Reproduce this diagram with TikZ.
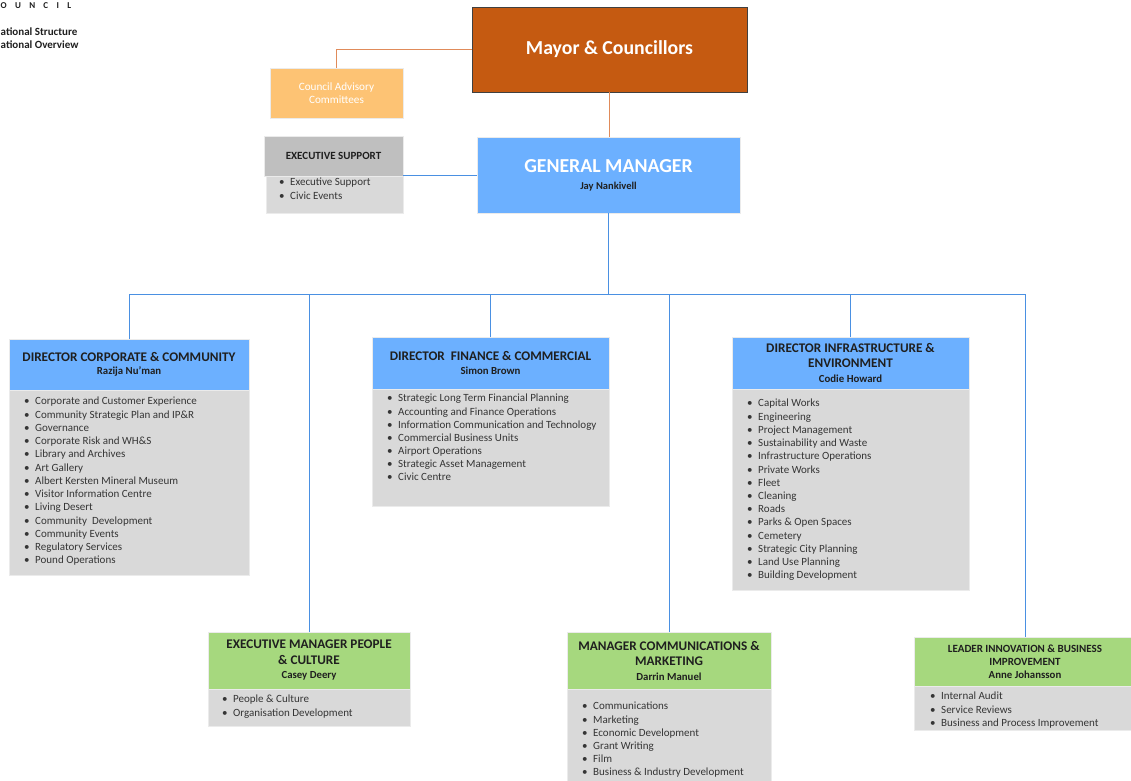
\documentclass[tikz,border=0pt]{standalone}
\usepackage{fontspec}
\setmainfont{Carlito}
\definecolor{mayorc}{HTML}{C55A11}
\definecolor{advc}{HTML}{FDC374}
\definecolor{gmc}{HTML}{6CB0FF}
\definecolor{bodyc}{HTML}{D9D9D9}
\definecolor{exhdc}{HTML}{BFBFBF}
\definecolor{grnc}{HTML}{A6D87E}
\definecolor{olinec}{HTML}{E08B5A}
\definecolor{blinec}{HTML}{4A90E2}
\definecolor{inkc}{HTML}{1F1F1F}
\newcommand\itemdot{\makebox[11pt][l]{\textbullet}}
\tikzset{
  boxn/.style={rectangle, inner sep=0pt, outer sep=0pt, anchor=north west, draw=white!92!black, line width=0.6pt},
  hdtext/.style={align=center, text=inkc, font=\bfseries\fontsize{13.2}{15.5}\selectfont},
  lst/.style={anchor=north west, inner sep=0pt, align=left, text=inkc!90, font=\fontsize{11}{13.2}\selectfont},
  oconn/.style={draw=olinec, line width=1pt},
  bconn/.style={draw=blinec, line width=1pt},
}
\newcommand\nm[1]{{\fontsize{10.8}{15.5}\selectfont #1}}
\begin{document}
\begin{tikzpicture}[x=1pt,y=-1pt]
\useasboundingbox (0,0) rectangle (1131,780);
\fill[white] (0,0) rectangle (1131,780);

% top-left heading
\node[anchor=west, inner sep=0pt, font=\bfseries\fontsize{9}{10}\selectfont, text=inkc] (hd1) at (0.5,6) {O\hskip8.3pt U\hskip8.3pt N\hskip8.3pt C\hskip8.3pt I\hskip8.3pt L};
\node[anchor=west, inner sep=0pt, font=\bfseries\fontsize{11}{13}\selectfont, text=inkc, align=left] (hd2) at (0.5,38.5) {ational Structure\\ational Overview};

% Mayor
\node[boxn, fill=mayorc, draw=black!75, line width=0.8pt, minimum width=275pt, minimum height=85pt, text=white, font=\fontsize{19.8}{22}\selectfont\bfseries] (mayor) at (472,7) {Mayor \& Councillors};
% Advisory
\node[boxn, fill=advc, minimum width=133pt, minimum height=50pt, text=white, align=center, font=\fontsize{11.2}{13}\selectfont] (adv) at (270,68) {Council Advisory\\Committees};
% GM
\node[boxn, fill=gmc, minimum width=263pt, minimum height=76pt, align=center, text=white, font=\fontsize{19.8}{22}\selectfont] (gm) at (477,137) {{\bfseries GENERAL MANAGER}\\[-5pt]{\fontsize{10.5}{12}\selectfont\bfseries\color{inkc} Jay Nankivell}};
% Exec support
\node[boxn, fill=exhdc, minimum width=139pt, minimum height=40pt, hdtext, font=\bfseries\fontsize{11}{13}\selectfont] (exhd) at (264,136) {EXECUTIVE SUPPORT};
\node[boxn, fill=bodyc, minimum width=137pt, minimum height=37pt] (exbd) at (266,176) {};
\node[lst] (exls) at (279,178) {\itemdot Executive Support\\\itemdot Civic Events};

% Director Corporate & Community
\node[boxn, fill=gmc, minimum width=240pt, minimum height=51pt, hdtext] (cchd) at (9,339) {DIRECTOR CORPORATE \& COMMUNITY\\[-2pt]\nm{Razija Nu'man}};
\node[boxn, fill=bodyc, minimum width=240pt, minimum height=185pt] (ccbd) at (9,390) {};
\node[lst, font=\fontsize{11}{13.25}\selectfont] (ccls) at (24,397) {\itemdot Corporate and Customer Experience\\
\itemdot Community Strategic Plan and IP\&R\\
\itemdot Governance\\
\itemdot Corporate Risk and WH\&S\\
\itemdot Library and Archives\\
\itemdot Art Gallery\\
\itemdot Albert Kersten Mineral Museum\\
\itemdot Visitor Information Centre\\
\itemdot Living Desert\\
\itemdot Community\ \ Development\\
\itemdot Community Events\\
\itemdot Regulatory Services\\
\itemdot Pound Operations};

% Director Finance & Commercial
\node[boxn, fill=gmc, minimum width=237pt, minimum height=52pt, hdtext] (fihd) at (372,337) {DIRECTOR\ \ FINANCE \& COMMERCIAL\\[-1pt]\nm{Simon Brown}};
\node[boxn, fill=bodyc, minimum width=237pt, minimum height=117pt] (fibd) at (372,389) {};
\node[lst, font=\fontsize{11}{13.17}\selectfont] (fils) at (387,394) {\itemdot Strategic Long Term Financial Planning\\
\itemdot Accounting and Finance Operations\\
\itemdot Information Communication and Technology\\
\itemdot Commercial Business Units\\
\itemdot Airport Operations\\
\itemdot Strategic Asset Management\\
\itemdot Civic Centre};

% Director Infrastructure & Environment
\node[boxn, fill=gmc, minimum width=237pt, minimum height=52pt, hdtext] (inhd) at (732,337) {DIRECTOR INFRASTRUCTURE \&\\[-0.5pt]ENVIRONMENT\\[-0.5pt]\nm{Codie Howard}};
\node[boxn, fill=bodyc, minimum width=237pt, minimum height=201pt] (inbd) at (732,389) {};
\node[lst, font=\fontsize{11}{13.23}\selectfont] (inls) at (747,399) {\itemdot Capital Works\\
\itemdot Engineering\\
\itemdot Project Management\\
\itemdot Sustainability and Waste\\
\itemdot Infrastructure Operations\\
\itemdot Private Works\\
\itemdot Fleet\\
\itemdot Cleaning\\
\itemdot Roads\\
\itemdot Parks \& Open Spaces\\
\itemdot Cemetery\\
\itemdot Strategic City Planning\\
\itemdot Land Use Planning\\
\itemdot Building Development};

% Executive Manager People & Culture
\node[boxn, fill=grnc, minimum width=202pt, minimum height=57pt, hdtext] (pchd) at (208,632) {EXECUTIVE MANAGER PEOPLE\\\& CULTURE\\[-1pt]\nm{Casey Deery}};
\node[boxn, fill=bodyc, minimum width=202pt, minimum height=37pt] (pcbd) at (208,689) {};
\node[lst] (pcls) at (222,695) {\itemdot People \& Culture\\\itemdot Organisation Development};

% Manager Communications & Marketing
\node[boxn, fill=grnc, minimum width=204pt, minimum height=57pt, hdtext] (cmhd) at (567,632) {MANAGER COMMUNICATIONS \&\\MARKETING\\[-1pt]\nm{Darrin Manuel}};
\node[boxn, fill=bodyc, minimum width=204pt, minimum height=100pt] (cmbd) at (567,689) {};
\node[lst] (cmls) at (582,702) {\itemdot Communications\\
\itemdot Marketing\\
\itemdot Economic Development\\
\itemdot Grant Writing\\
\itemdot Film\\
\itemdot Business \& Industry Development};

% Leader Innovation & Business Improvement
\node[boxn, fill=grnc, minimum width=222pt, minimum height=49pt, hdtext, font=\bfseries\fontsize{11}{13}\selectfont] (lihd) at (914,637) {LEADER INNOVATION \& BUSINESS\\IMPROVEMENT\\{\fontsize{10.8}{13}\selectfont Anne Johansson}};
\node[boxn, fill=bodyc, minimum width=222pt, minimum height=44pt] (libd) at (914,686) {};
\node[lst] (lils) at (930,692) {\itemdot Internal Audit\\\itemdot Service Reviews\\\itemdot Business and Process Improvement};

% connectors
\draw[oconn] (mayor.west) -| (adv.north);
\draw[oconn] (mayor.south) -- (mayor.south |- gm.north);
\draw[bconn] (gm.west) -- (gm.west -| exhd.east);
\coordinate (bus) at (609,294);
\draw[bconn] (gm.south) -- (gm.south |- bus);
\draw[bconn] (cchd.north) -- (cchd.north |- bus) -- (lihd.north |- bus) -- (lihd.north);
\draw[bconn] (pchd.north) -- (pchd.north |- bus);
\draw[bconn] (fihd.north) -- (fihd.north |- bus);
\draw[bconn] (cmhd.north) -- (cmhd.north |- bus);
\draw[bconn] (inhd.north) -- (inhd.north |- bus);
\end{tikzpicture}
\end{document}
